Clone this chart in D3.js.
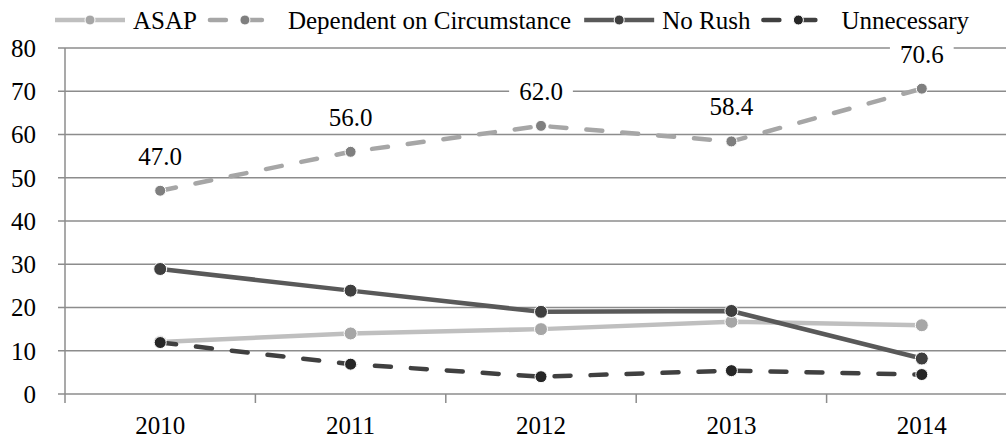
<!DOCTYPE html>
<html><head><meta charset="utf-8">
<script src="https://cdn.jsdelivr.net/npm/d3@7"></script>
<style>
html,body{margin:0;padding:0;background:#fff;}
svg{display:block;}
text{font-family:'Liberation Serif','Times New Roman',Tinos,'DejaVu Serif',serif;}
</style></head>
<body>
<svg id="chart" width="1006" height="438"></svg>
<script>
const years = ["2010","2011","2012","2013","2014"];
const asap = [12.0, 14.0, 15.0, 16.7, 15.9];
const dependent = [47.0, 56.0, 62.0, 58.4, 70.6];
const noRush = [28.9, 23.9, 19.0, 19.2, 8.2];
const unnecessary = [11.9, 6.9, 4.0, 5.4, 4.5];
const yTicks = [0, 10, 20, 30, 40, 50, 60, 70, 80];
const seriesNames = ["ASAP", "Dependent on Circumstance", "No Rush", "Unnecessary"];

const series = [
  {name: seriesNames[0], values: asap, line: "#bfbfbf", marker: "#a6a6a6", dash: null, r: 6.5, lr: 5},
  {name: seriesNames[1], values: dependent, line: "#a6a6a6", marker: "#7f7f7f", dash: "16,20", r: 5.5, lr: 5, labels: true},
  {name: seriesNames[2], values: noRush, line: "#595959", marker: "#3f3f3f", dash: null, r: 6.5, lr: 5},
  {name: seriesNames[3], values: unnecessary, line: "#404040", marker: "#262626", dash: "16,20", r: 6, lr: 5}
];

const svg = d3.select("#chart");
const FONT = "'Liberation Serif', 'Times New Roman', Tinos, 'DejaVu Serif', serif";
const fs = 25;
const x = d3.scaleBand().domain(years).range([65, 1017]);
const cx = d => x(d) + x.bandwidth() / 2;
const y = d3.scaleLinear().domain([0, 80]).range([394, 48]);

// gridlines
svg.append("g").selectAll("line").data(yTicks).join("line")
  .attr("x1", 58).attr("x2", 1017)
  .attr("y1", d => y(d)).attr("y2", d => y(d))
  .attr("stroke", "#8c8c8c").attr("stroke-width", 1.5);

// y axis line
svg.append("line").attr("x1", 65).attr("x2", 65).attr("y1", y(80)).attr("y2", y(0) + 9)
  .attr("stroke", "#8c8c8c").attr("stroke-width", 1.5);
// x category ticks
const bounds = years.slice(1).map(d => x(d)).concat([x(years[years.length-1]) + x.bandwidth()]);
svg.append("g").selectAll("line").data(bounds).join("line")
  .attr("x1", d => d).attr("x2", d => d).attr("y1", y(0)).attr("y2", y(0) + 9)
  .attr("stroke", "#8c8c8c").attr("stroke-width", 1.5);

// y labels
svg.append("g").selectAll("text").data(yTicks).join("text")
  .attr("x", 36).attr("y", d => y(d)).attr("dy", "0.35em")
  .attr("text-anchor", "end").attr("font-size", fs).attr("font-family", FONT).attr("fill", "#000")
  .text(d => d);

// x labels
svg.append("g").selectAll("text").data(years).join("text")
  .attr("x", d => cx(d)).attr("y", 434)
  .attr("text-anchor", "middle").attr("font-size", fs).attr("font-family", FONT).attr("fill", "#000")
  .text(d => d);

// lines
const lineGen = d3.line().x((v, i) => cx(years[i])).y(v => y(v));
series.forEach(s => {
  const g = svg.append("g");
  g.append("path").datum(s.values).attr("d", lineGen)
    .attr("fill", "none").attr("stroke", s.line).attr("stroke-width", 4.5)
    .attr("stroke-linecap", s.dash ? "round" : "butt")
    .attr("stroke-linejoin", "round")
    .attr("stroke-dasharray", s.dash);
  g.selectAll("circle").data(s.values).join("circle")
    .attr("cx", (v, i) => cx(years[i])).attr("cy", v => y(v)).attr("r", s.r)
    .attr("fill", s.marker).attr("stroke", "#fff").attr("stroke-width", 1);
});

// data labels for Dependent
const dep = series[1];
const lg = svg.append("g");
dep.values.forEach((v, i) => {
  const t = lg.append("text")
    .attr("x", cx(years[i])).attr("y", y(v) - 26)
    .attr("text-anchor", "middle").attr("font-size", fs).attr("font-family", FONT).attr("fill", "#000")
    .text(v.toFixed(1));
  const bb = t.node().getBBox();
  lg.insert("rect", () => t.node())
    .attr("x", bb.x - 10).attr("y", bb.y + 2).attr("width", bb.width + 20).attr("height", bb.height - 4)
    .attr("fill", "#fff");
});

// legend
const leg = svg.append("g");
let lx = 55;
const ly = 20;
series.forEach(s => {
  leg.append("line").attr("x1", lx).attr("x2", lx + 70).attr("y1", ly).attr("y2", ly)
    .attr("stroke", s.line).attr("stroke-width", 4.5)
    .attr("stroke-linecap", s.dash ? "round" : "butt")
    .attr("stroke-dasharray", s.dash);
  leg.append("circle").attr("cx", lx + 35).attr("cy", ly).attr("r", s.lr)
    .attr("fill", s.marker).attr("stroke", "#fff").attr("stroke-width", 1);
  const t = leg.append("text").attr("x", lx + 78).attr("y", ly).attr("dy", "0.35em")
    .attr("font-size", fs).attr("font-family", FONT).attr("fill", "#000").text(s.name);
  lx = lx + 78 + t.node().getComputedTextLength() + 13;
});
</script>
</body></html>
